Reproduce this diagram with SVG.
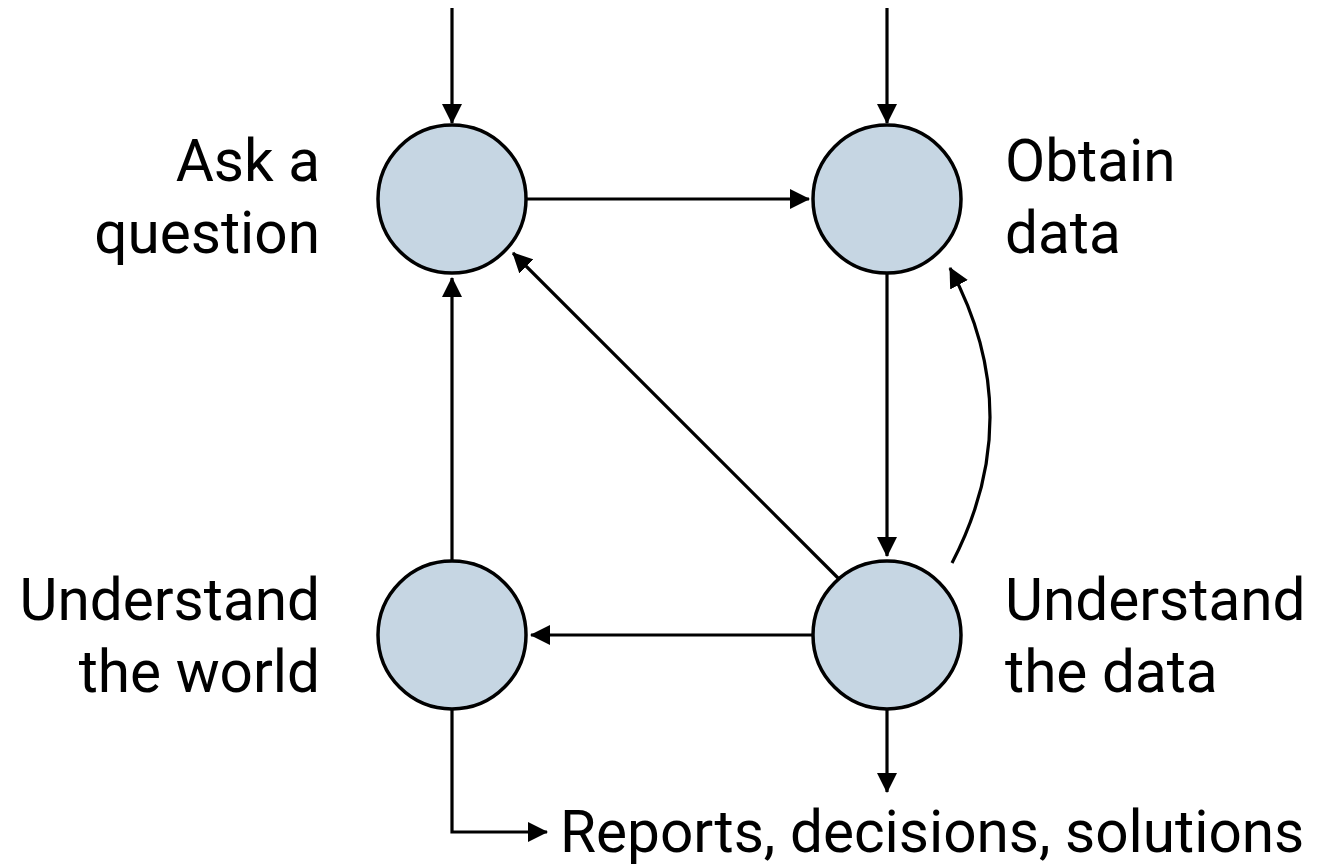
<svg xmlns="http://www.w3.org/2000/svg" width="1317" height="864" viewBox="0 0 1317 864">
<style>
.node{fill:#c6d6e3;stroke:#000;stroke-width:3.5}
.lbl{font-family:Roboto,"Liberation Sans",sans-serif;font-size:58.5px;fill:#000}
.e{fill:none;stroke:#000;stroke-width:3.2}
</style>
<defs>
<marker id="ah" markerWidth="20" markerHeight="20" viewBox="0 0 20 20" refX="19" refY="10" orient="auto" markerUnits="userSpaceOnUse">
<path d="M0,0 L20,10 L0,20 Z" fill="#000"/>
</marker>
</defs>
<rect width="1317" height="864" fill="#fff"/>
<g id="connectors">
<line class="e" x1="452" y1="8" x2="452" y2="123" marker-end="url(#ah)"/>
<line class="e" x1="887" y1="8" x2="887" y2="123" marker-end="url(#ah)"/>
<line class="e" x1="527" y1="199" x2="809" y2="199" marker-end="url(#ah)"/>
<line class="e" x1="887" y1="274" x2="887" y2="556" marker-end="url(#ah)"/>
<line class="e" x1="813" y1="635" x2="531" y2="635" marker-end="url(#ah)"/>
<line class="e" x1="452" y1="560" x2="452" y2="278" marker-end="url(#ah)"/>
<line class="e" x1="839" y1="579" x2="513" y2="253" marker-end="url(#ah)"/>
<path class="e" d="M952,563 Q1029,415 950,268" marker-end="url(#ah)"/>
<line class="e" x1="887" y1="709" x2="887" y2="792" marker-end="url(#ah)"/>
<path class="e" d="M452,709 L452,832 L547,832" marker-end="url(#ah)"/>
</g>
<g id="ask"><circle class="node" cx="452" cy="199" r="74"/>
<text class="lbl" x="320" y="181" text-anchor="end">Ask a</text>
<text class="lbl" x="320" y="253" text-anchor="end">question</text></g>
<g id="obtain"><circle class="node" cx="887" cy="199" r="74"/>
<text class="lbl" x="1005" y="181">Obtain</text>
<text class="lbl" x="1005" y="253">data</text></g>
<g id="understand-data"><circle class="node" cx="887" cy="635" r="74"/>
<text class="lbl" x="1005" y="620">Understand</text>
<text class="lbl" x="1005" y="692">the data</text></g>
<g id="understand-world"><circle class="node" cx="452" cy="635" r="74"/>
<text class="lbl" x="320" y="620" text-anchor="end">Understand</text>
<text class="lbl" x="320" y="692" text-anchor="end">the world</text></g>
<g id="outcome"><text class="lbl" x="560" y="852">Reports, decisions, solutions</text></g>
</svg>
